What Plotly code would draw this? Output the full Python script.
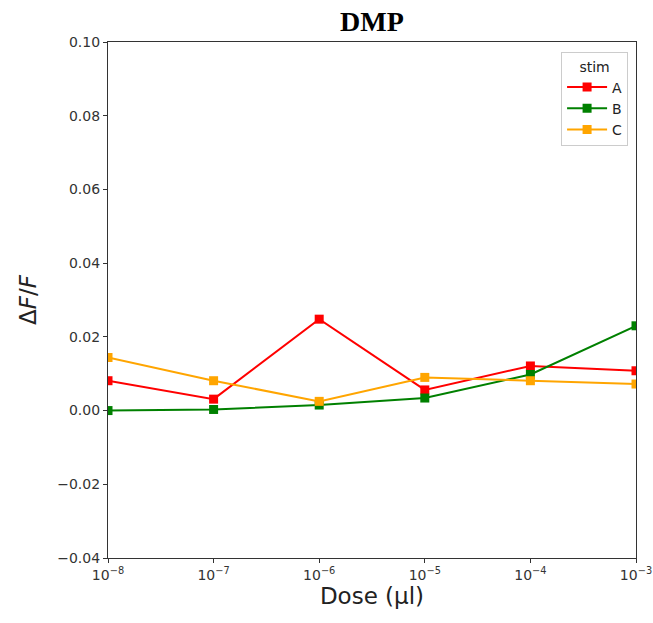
import plotly.graph_objects as go

doses = [1e-8, 1e-7, 1e-6, 1e-5, 1e-4, 1e-3]
stim_A = [0.0081, 0.0031, 0.0248, 0.0056, 0.0121, 0.0108]
stim_B = [0.0000, 0.0003, 0.0015, 0.0034, 0.0098, 0.0230]
stim_C = [0.0144, 0.0081, 0.0025, 0.0090, 0.0081, 0.0072]
series = [("A", stim_A, "#ff0000"), ("B", stim_B, "#008000"), ("C", stim_C, "#ffa500")]
xtick_text = ["10<sup>−8</sup>", "10<sup>−7</sup>", "10<sup>−6</sup>",
              "10<sup>−5</sup>", "10<sup>−4</sup>", "10<sup>−3</sup>"]
ytick_vals = [-0.04, -0.02, 0.0, 0.02, 0.04, 0.06, 0.08, 0.10]

fig = go.Figure()
for name, vals, col in series:
    fig.add_trace(go.Scatter(
        x=doses, y=vals, mode="lines+markers", name=name,
        line=dict(color=col, width=2),
        marker=dict(symbol="square", size=9, color=col),
    ))

axis_common = dict(
    showgrid=False, zeroline=False, showline=True, linecolor="#333333", linewidth=1.2,
    mirror=True, ticks="outside", ticklen=4, tickcolor="#333333", automargin=False,
    tickfont=dict(family="DejaVu Sans", size=14, color="#333333"),
)
fig.update_xaxes(type="log", range=[-8, -3], tickvals=doses, ticktext=xtick_text,
                 title=dict(text="Dose (µl)", font=dict(family="DejaVu Sans", size=23, color="#222222"), standoff=4),
                 **axis_common)
fig.update_yaxes(range=[-0.04, 0.10], tickvals=ytick_vals, tickformat=".2f",
                 title=dict(text="Δ<i>F</i>/<i>F</i>", font=dict(family="DejaVu Sans", size=23, color="#222222"), standoff=14),
                 **axis_common)

fig.update_layout(
    width=653, height=623,
    margin=dict(l=108, r=17, t=42, b=65, autoexpand=False),
    plot_bgcolor="white", paper_bgcolor="white",
    title=dict(text="<b>DMP</b>", x=(108 + 636) / 2 / 653, xanchor="center", y=1 - 21 / 623, yanchor="middle",
               font=dict(family="Liberation Serif", size=28, color="black")),
    legend=dict(title=dict(text="stim", side="top center", font=dict(family="DejaVu Sans", size=14, color="#222222")),
                x=0.985, xanchor="right", y=0.98, yanchor="top",
                bordercolor="#cccccc", borderwidth=1, bgcolor="white", itemwidth=40,
                font=dict(family="DejaVu Sans", size=14, color="#222222")),
    showlegend=True,
)

fig.write_html("out.html")
